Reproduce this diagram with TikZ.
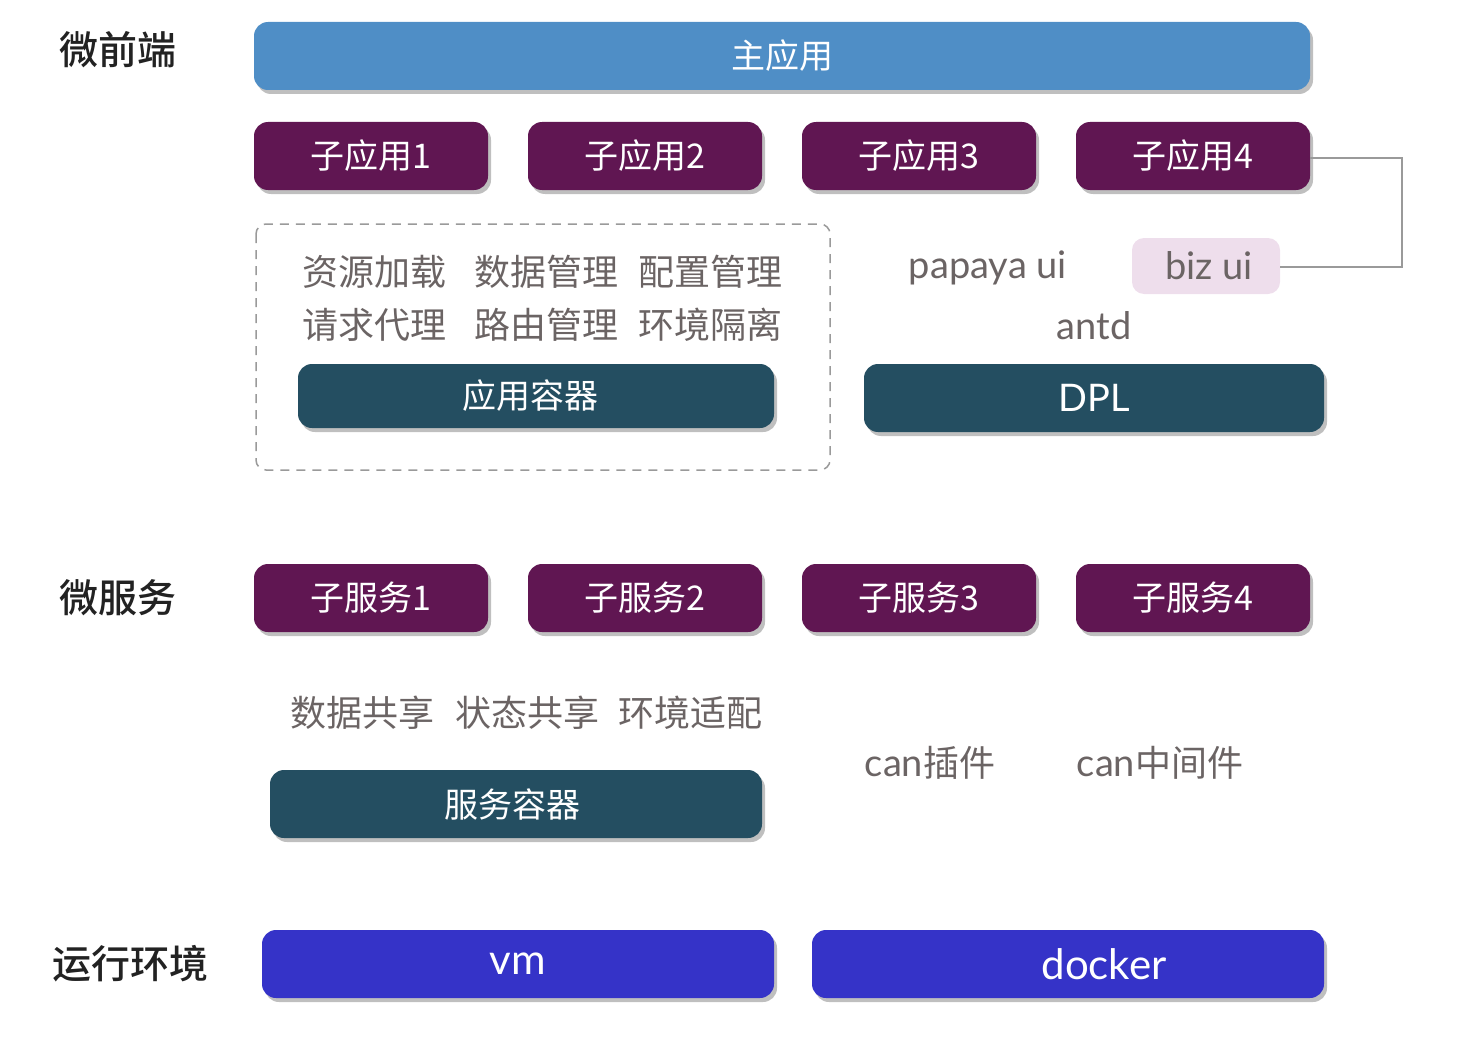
\documentclass[tikz,border=0pt]{standalone}
\usepackage{fontspec}
\setmainfont{Noto Sans CJK SC}
\newfontfamily\latinfont{Lato}
\newfontfamily\labelfont{Noto Sans CJK SC Medium}
\usetikzlibrary{shadows}
\definecolor{mainblue}{HTML}{4F8EC6}
\definecolor{appviolet}{HTML}{601652}
\definecolor{teal}{HTML}{244E61}
\definecolor{envblue}{HTML}{3533C8}
\definecolor{bizfill}{HTML}{EEDEEC}
\definecolor{graytext}{HTML}{6B6464}
\definecolor{labeltext}{HTML}{222222}
\definecolor{linegray}{HTML}{9A9A9A}
\tikzset{
  boxbase/.style={rounded corners=14pt, text=white, inner sep=0pt,
    drop shadow={shadow xshift=3pt, shadow yshift=-4pt, opacity=0.25, fill=black},
    font=\fontsize{34}{40}\selectfont},
  mainbox/.style={boxbase, fill=mainblue, minimum width=1056pt, minimum height=68pt},
  appbox/.style={boxbase, fill=appviolet, minimum width=234pt, minimum height=68pt},
  tealbox/.style={boxbase, fill=teal, minimum height=66pt},
  envbox/.style={boxbase, fill=envblue, minimum width=512pt, minimum height=68pt, font=\fontsize{42}{48}\selectfont\latinfont},
  feat/.style={text=graytext, inner sep=0pt, font=\fontsize{36}{42}\selectfont},
  lib/.style={text=graytext, inner sep=0pt, font=\fontsize{36}{42}\selectfont},
  latinlib/.style={lib, font=\fontsize{38}{44}\selectfont\latinfont},
  layerlabel/.style={text=labeltext, inner sep=0pt, font=\fontsize{39}{46}\selectfont\labelfont},
  connector/.style={draw=linegray, line width=1.5pt},
}
\begin{document}
\begin{tikzpicture}[x=1pt, y=-1pt]
\useasboundingbox (0,0) rectangle (1462,1054);

% layer labels
\node[layerlabel] (lfront) at (118,50) {微前端};
\node[layerlabel] (lserv) at (118,598) {微服务};
\node[layerlabel] (lenv) at (130,964) {运行环境};

% main app
\node[mainbox] (main) at (782,56) {主应用};

% sub apps
\node[appbox] (app1) at (371,156) {子应用1};
\node[appbox] (app2) at (645,156) {子应用2};
\node[appbox] (app3) at (919,156) {子应用3};
\node[appbox] (app4) at (1193,156) {子应用4};

% dashed container group
\draw[draw=linegray, line width=1.5pt, dash pattern=on 9pt off 7pt, rounded corners=10pt]
  (256,224) rectangle (830,470);
\node[feat] (f1) at (374,272) {资源加载};
\node[feat] (f2) at (546,272) {数据管理};
\node[feat] (f3) at (710,272) {配置管理};
\node[feat] (f4) at (374,325) {请求代理};
\node[feat] (f5) at (546,325) {路由管理};
\node[feat] (f6) at (710,325) {环境隔离};
\node[tealbox, minimum width=476pt, minimum height=64pt] (appc) at (536,396) {\hspace*{-12pt}应用容器};

% UI libs
\node[latinlib] (papaya) at (988,268) {papaya ui};
\node[latinlib, fill=bizfill, rounded corners=12pt, minimum width=148pt, minimum height=56pt] (biz) at (1206,266) {\hspace*{6pt}biz ui};
\node[latinlib] (antd) at (1094,326) {antd};
\node[tealbox, minimum width=460pt, minimum height=68pt, font=\fontsize{38}{44}\selectfont\latinfont] (dpl) at (1094,398) {DPL};

% connector app4 -> biz ui
\coordinate (c1) at (1402,158);
\coordinate (c2) at (1402,267);
\draw[connector] (app4.east |- c1) -- (c1) -- (c2) -- (biz.east |- c2);

% sub services
\node[appbox] (srv1) at (371,598) {子服务1};
\node[appbox] (srv2) at (645,598) {子服务2};
\node[appbox] (srv3) at (919,598) {子服务3};
\node[appbox] (srv4) at (1193,598) {子服务4};

\node[feat] (s1) at (362,713) {数据共享};
\node[feat] (s2) at (527,713) {状态共享};
\node[feat] (s3) at (690,713) {环境适配};
\node[tealbox, minimum width=492pt, minimum height=68pt] (srvc) at (516,804) {\hspace*{-8pt}服务容器};

\node[lib] (canp) at (930,763) {{\fontsize{38}{44}\selectfont\latinfont can}插件};
\node[lib] (canm) at (1160,763) {{\fontsize{38}{44}\selectfont\latinfont can}中间件};

% runtime
\node[envbox] (vm) at (518,964) {vm};
\node[envbox] (docker) at (1068,964) {\hspace*{72pt}docker};
\end{tikzpicture}
\end{document}
